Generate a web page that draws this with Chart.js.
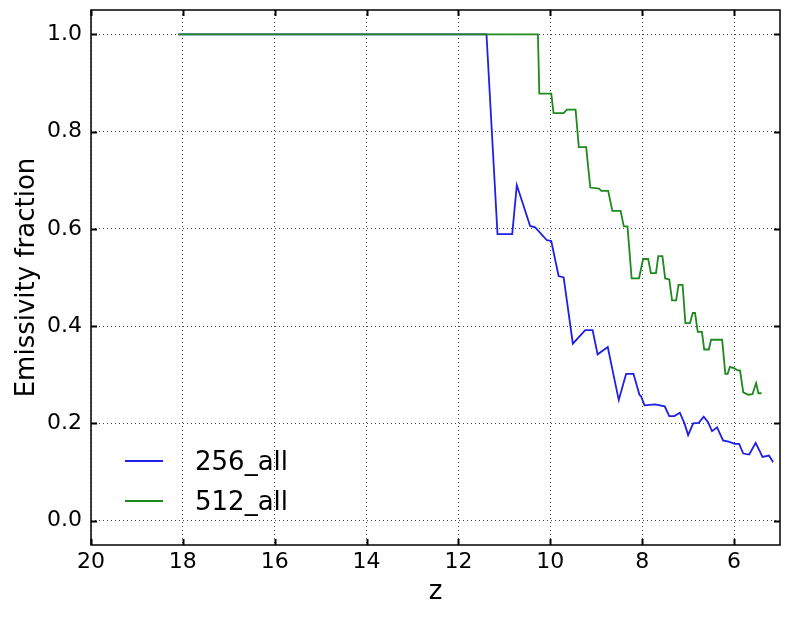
<!DOCTYPE html>
<html><head><meta charset="utf-8">
<script src="https://cdn.jsdelivr.net/npm/chart.js@4.4.0/dist/chart.umd.min.js"></script>
<style>html,body{margin:0;padding:0;background:#fff;}</style>
</head><body>
<canvas id="c" width="789" height="617"></canvas>
<script>
const seriesLabels = ['256_all', '512_all'];
const seriesColors = ['#1f1fe6', '#1e8a1e'];
const z256 = [18.1, 11.39, 11.15, 10.83, 10.73, 10.44, 10.33, 10.08, 9.98, 9.82, 9.71, 9.51, 9.24, 9.08, 8.97, 8.75, 8.51, 8.35, 8.19, 8.06, 8.02, 7.95, 7.72, 7.51, 7.41, 7.30, 7.18, 7.08, 7.00, 6.89, 6.77, 6.66, 6.57, 6.48, 6.37, 6.24, 6.10, 5.99, 5.89, 5.80, 5.67, 5.53, 5.38, 5.24, 5.15];
const f256 = [1.0, 1.0, 0.589, 0.589, 0.69, 0.606, 0.603, 0.577, 0.575, 0.503, 0.50, 0.364, 0.392, 0.392, 0.342, 0.357, 0.248, 0.302, 0.302, 0.259, 0.255, 0.237, 0.239, 0.235, 0.215, 0.215, 0.222, 0.20, 0.176, 0.20, 0.201, 0.214, 0.203, 0.184, 0.192, 0.165, 0.162, 0.158, 0.158, 0.138, 0.136, 0.16, 0.131, 0.134, 0.12];
const z512 = [18.1, 10.27, 10.24, 9.98, 9.93, 9.71, 9.64, 9.45, 9.38, 9.22, 9.13, 8.94, 8.89, 8.74, 8.65, 8.47, 8.40, 8.32, 8.23, 8.07, 7.98, 7.87, 7.81, 7.70, 7.65, 7.56, 7.50, 7.41, 7.35, 7.26, 7.21, 7.12, 7.06, 6.96, 6.90, 6.85, 6.79, 6.70, 6.65, 6.55, 6.50, 6.26, 6.19, 6.14, 6.09, 5.99, 5.92, 5.87, 5.80, 5.69, 5.60, 5.52, 5.47, 5.40];
const f512 = [1.0, 1.0, 0.878, 0.878, 0.838, 0.838, 0.845, 0.845, 0.768, 0.768, 0.685, 0.683, 0.678, 0.678, 0.637, 0.637, 0.605, 0.605, 0.498, 0.498, 0.538, 0.538, 0.509, 0.509, 0.544, 0.544, 0.498, 0.496, 0.453, 0.453, 0.485, 0.485, 0.406, 0.406, 0.427, 0.427, 0.388, 0.388, 0.352, 0.352, 0.372, 0.372, 0.302, 0.302, 0.316, 0.313, 0.309, 0.309, 0.264, 0.259, 0.26, 0.283, 0.262, 0.262];
const xTicks = [20, 18, 16, 14, 12, 10, 8, 6];
const yTicks = [0.0, 0.2, 0.4, 0.6, 0.8, 1.0];
const xTitle = 'z';
const yTitle = 'Emissivity fraction';

const FONT = "'DejaVu Sans', sans-serif";
const pts = (xs, ys) => xs.map((v, i) => ({x: v, y: ys[i]}));

const framePlugin = {
  id: 'frame',
  afterDraw(chart) {
    const {ctx, chartArea: {left, right, top, bottom}, scales: {x, y}} = chart;
    ctx.save();
    ctx.strokeStyle = '#000';
    ctx.lineWidth = 1.5;
    ctx.strokeRect(left, top, right - left, bottom - top);
    const L = 6;
    ctx.lineWidth = 2;
    ctx.beginPath();
    x.ticks.forEach(t => {
      const p = Math.round(x.getPixelForValue(t.value)) + 0.5;
      ctx.moveTo(p, bottom); ctx.lineTo(p, bottom - L);
      ctx.moveTo(p, top); ctx.lineTo(p, top + L);
    });
    y.ticks.forEach(t => {
      const p = Math.round(y.getPixelForValue(t.value)) + 0.5;
      ctx.moveTo(left, p); ctx.lineTo(left + L, p);
      ctx.moveTo(right, p); ctx.lineTo(right - L, p);
    });
    ctx.stroke();
    // legend (no frame), lower left
    ctx.font = "26px " + FONT;
    ctx.textBaseline = 'middle';
    ctx.textAlign = 'left';
    const rows = [461, 501];
    seriesLabels.forEach((lab, i) => {
      ctx.strokeStyle = seriesColors[i];
      ctx.lineWidth = 1.8;
      ctx.beginPath();
      ctx.moveTo(125, rows[i]); ctx.lineTo(163, rows[i]);
      ctx.stroke();
      ctx.fillStyle = '#000';
      ctx.fillText(lab, 195, rows[i] + 2);
    });
    ctx.restore();
  }
};

new Chart(document.getElementById('c'), {
  type: 'line',
  data: {
    datasets: [
      {label: seriesLabels[0], data: pts(z256, f256), borderColor: seriesColors[0], borderWidth: 1.8, pointRadius: 0, tension: 0, fill: false, order: 1},
      {label: seriesLabels[1], data: pts(z512, f512), borderColor: seriesColors[1], borderWidth: 1.8, pointRadius: 0, tension: 0, fill: false, order: 0}
    ]
  },
  options: {
    responsive: false,
    animation: false,
    events: [],
    layout: {padding: {left: 0, right: 9, top: 10, bottom: 0}},
    plugins: {legend: {display: false}, tooltip: {enabled: false}},
    scales: {
      x: {
        type: 'linear', min: 5, max: 20, reverse: true,
        afterBuildTicks: s => { s.ticks = xTicks.map(v => ({value: v})); },
        afterFit: s => { s.height = 72; s.paddingLeft = 0; s.paddingRight = 0; },
        grid: {color: '#444', lineWidth: 1, drawTicks: false},
        border: {display: false, dash: [1, 3]},
        ticks: {color: '#000', font: {family: FONT, size: 22}, padding: 4, maxRotation: 0, callback: v => String(v)},
        title: {display: true, text: xTitle, color: '#000', font: {family: FONT, size: 26, lineHeight: 1}, padding: {top: 0, bottom: 12}}
      },
      y: {
        type: 'linear', min: -0.05, max: 1.05,
        afterBuildTicks: s => { s.ticks = yTicks.map(v => ({value: v})); },
        afterFit: s => { s.width = 91; s.paddingTop = 0; s.paddingBottom = 0; },
        grid: {color: '#444', lineWidth: 1, drawTicks: false},
        border: {display: false, dash: [1, 3]},
        ticks: {color: '#000', font: {family: FONT, size: 22}, padding: 9, callback: v => v.toFixed(1)},
        title: {display: true, text: yTitle, color: '#000', font: {family: FONT, size: 26, lineHeight: 1}, padding: {top: 14, bottom: 0}}
      }
    }
  },
  plugins: [framePlugin]
});
</script>
</body></html>
